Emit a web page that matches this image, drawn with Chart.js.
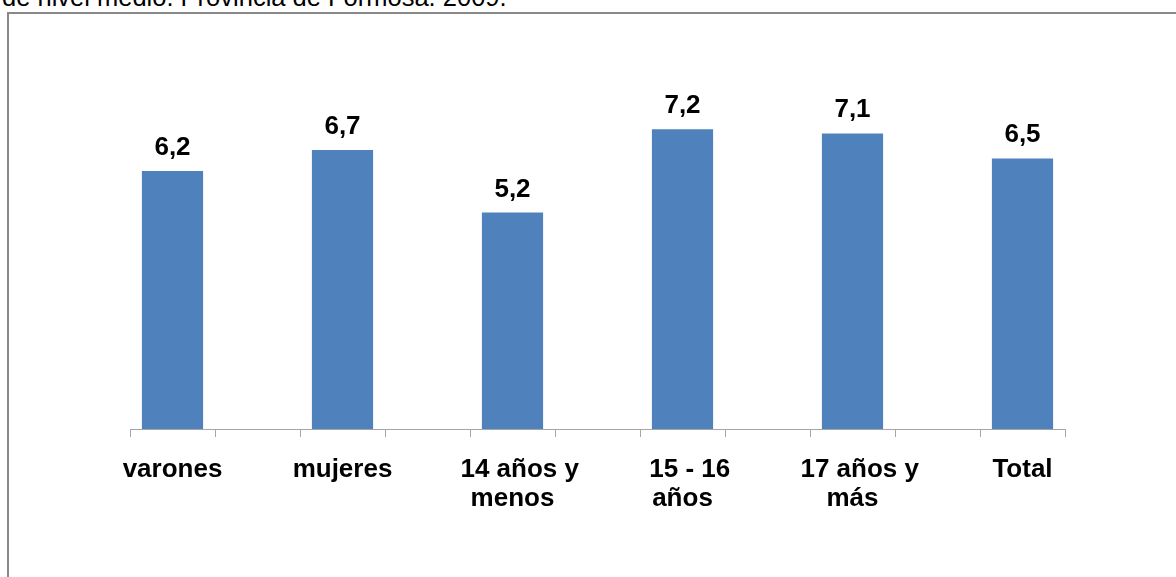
<!DOCTYPE html>
<html>
<head>
<meta charset="utf-8">
<script src="https://cdn.jsdelivr.net/npm/chart.js@4"></script>
<style>
  html, body { margin:0; padding:0; width:1176px; height:577px; overflow:hidden; background:#fff; }
  #title { position:absolute; left:2px; top:-15px; font-family:"Liberation Sans", Arial, sans-serif; font-size:25.5px; line-height:25px; color:#000; white-space:nowrap; }
  #frame { position:absolute; left:7px; top:12px; width:1400px; height:800px; border:2px solid #898989; box-sizing:border-box; }
  #wrap { position:absolute; left:0; top:0; width:1176px; height:577px; }
</style>
</head>
<body>
<div id="title">de nivel medio. Provincia de Formosa. 2009.</div>
<div id="frame"></div>
<div id="wrap"><canvas id="c" width="1176" height="577"></canvas></div>
<script>
const categories = ['varones', 'mujeres', ['14 años y', 'menos'], ['15 - 16', 'años'], ['17 años y', 'más'], 'Total'];
const values = [6.2, 6.7, 5.2, 7.2, 7.1, 6.5];
const yMax = 8;

// Excel layout: one empty slot between consecutive categories
const labels = [];
const data = [];
categories.forEach((c, i) => {
  if (i > 0) { labels.push(''); data.push(null); }
  labels.push(c); data.push(values[i]);
});

const valueLabels = {
  id: 'valueLabels',
  afterDatasetsDraw(chart) {
    const ctx = chart.ctx;
    const meta = chart.getDatasetMeta(0);
    ctx.save();
    ctx.font = 'bold 26px "Liberation Sans", Arial, sans-serif';
    ctx.fillStyle = '#000';
    ctx.textAlign = 'center';
    ctx.textBaseline = 'alphabetic';
    meta.data.forEach((el, i) => {
      const v = data[i];
      if (v === null || v === undefined) return;
      ctx.fillText(v.toFixed(1).replace('.', ','), el.x, el.y - 16);
    });
    ctx.restore();
  }
};

new Chart(document.getElementById('c'), {
  type: 'bar',
  data: {
    labels: labels,
    datasets: [{
      data: data,
      backgroundColor: '#4f81bd',
      borderWidth: 0,
      barPercentage: 0.72,
      categoryPercentage: 1.0
    }]
  },
  options: {
    responsive: false,
    animation: false,
    devicePixelRatio: 1,
    layout: { padding: { left: 130, right: 111, top: 96, bottom: 0 } },
    plugins: { legend: { display: false }, tooltip: { enabled: false }, title: { display: false } },
    scales: {
      y: { display: false, min: 0, max: yMax },
      x: {
        afterFit(s) { s.height = 148; },
        border: { display: true, color: '#a6a6a6', width: 1 },
        grid: { display: true, offset: true, drawOnChartArea: false, drawTicks: true, tickLength: 8, color: '#a6a6a6' },
        ticks: {
          color: '#000',
          padding: 18,
          maxRotation: 0, minRotation: 0, autoSkip: false,
          font: { family: '"Liberation Sans", Arial, sans-serif', size: 26, weight: 'bold', lineHeight: 1.115 },
          callback(value) {
            const l = this.getLabelForValue(value);
            // wrapped labels: first line sits slightly right, as in the original
            return Array.isArray(l) ? ['  ' + l[0], l[1]] : l;
          }
        }
      }
    }
  },
  plugins: [valueLabels]
});
</script>
</body>
</html>
